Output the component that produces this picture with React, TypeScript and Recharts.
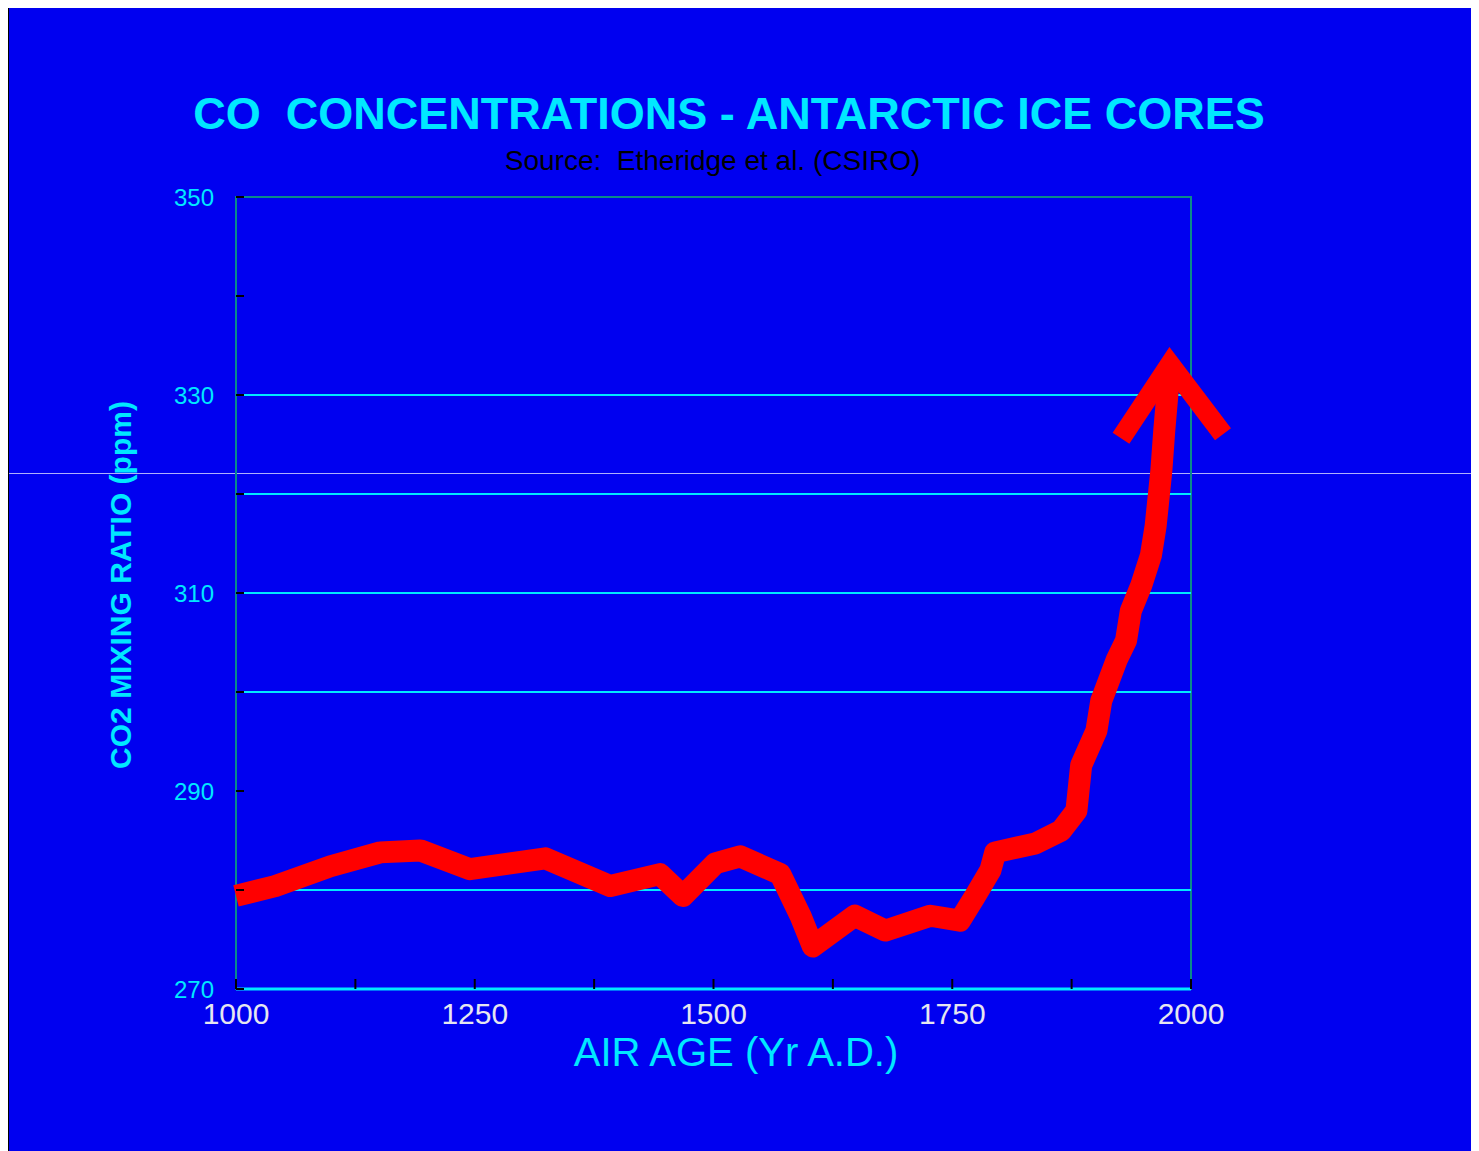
import { LineChart, Line, XAxis, YAxis, ReferenceLine, ReferenceArea } from 'recharts';

const YEARS = [1000, 1041, 1099, 1151, 1193, 1245, 1287, 1324, 1392, 1444, 1468, 1502, 1528, 1570, 1591, 1604, 1648, 1680, 1727, 1758, 1774, 1790, 1795, 1837, 1864, 1880, 1885, 1901, 1906, 1922, 1932, 1937, 1948, 1958, 1963, 1969, 1972, 1978];
const CO2_PPM = [279.4, 280.4, 282.4, 283.8, 284.0, 282.1, 282.7, 283.2, 280.4, 281.6, 279.4, 282.7, 283.4, 281.6, 277.4, 274.3, 277.4, 275.9, 277.4, 276.9, 279.4, 282.0, 283.8, 284.7, 286.0, 288.0, 292.6, 296.1, 299.1, 303.2, 305.2, 308.2, 310.8, 313.8, 316.8, 322.4, 326.4, 333.1];

const X_TICKS = [1000, 1125, 1250, 1375, 1500, 1625, 1750, 1875, 2000];
const X_LABELS = [1000, 1250, 1500, 1750, 2000];
const Y_TICKS = [270, 280, 290, 300, 310, 320, 330, 340, 350];
const Y_LABELS = [270, 290, 310, 330, 350];
const GRID_LEVELS = [280, 300, 310, 320, 330];

const BG = '#0000f0';
const CYAN = '#00e8ff';
const RED = '#ff0000';

const data = YEARS.map((year, i) => ({ year, ppm: CO2_PPM[i] }));

// arrowhead drawn on the last point only
function ArrowDot(props: any) {
  const { cx, cy, index } = props;
  if (index !== data.length - 1) return <g key={`d-${index}`} />;
  return (
    <path
      key={`d-${index}`}
      d={`M${cx - 49},${cy + 74} L${cx},${cy} L${cx + 53},${cy + 70}`}
      fill="none"
      stroke={RED}
      strokeWidth={20}
      strokeLinejoin="miter"
      strokeLinecap="butt"
    />
  );
}

export default function App() {
  return (
    <div style={{
      position: 'relative',
      width: 1471,
      height: 1147,
      marginTop: -4,
      background: BG,
      borderTop: '1px solid #000',
      borderLeft: '1px solid #000',
      boxSizing: 'border-box',
      fontFamily: 'Arial, "Liberation Sans", sans-serif',
      overflow: 'hidden',
    }}>
      <div style={{
        position: 'absolute', left: 0, width: 1440, top: 84, textAlign: 'center',
        color: CYAN, fontSize: 45, fontWeight: 700, whiteSpace: 'pre', lineHeight: '50px',
      }}>
        {'CO  CONCENTRATIONS - ANTARCTIC ICE CORES'}
      </div>
      <div style={{
        position: 'absolute', left: 0, width: 1407, top: 140, textAlign: 'center',
        color: '#000', fontSize: 28, whiteSpace: 'pre', lineHeight: '32px',
      }}>
        {'Source:  Etheridge et al. (CSIRO)'}
      </div>
      <div style={{
        position: 'absolute', left: 112 - 200, top: 580 - 20, width: 400, height: 40,
        transform: 'rotate(-90deg)', textAlign: 'center', color: CYAN,
        fontSize: 30, fontWeight: 700, lineHeight: '40px', whiteSpace: 'nowrap',
      }}>
        CO2 MIXING RATIO (ppm)
      </div>
      <div style={{
        position: 'absolute', left: 0, width: 1454, top: 1025, textAlign: 'center',
        color: CYAN, fontSize: 40, lineHeight: '44px', whiteSpace: 'nowrap',
      }}>
        AIR AGE (Yr A.D.)
      </div>
      <div style={{
        position: 'absolute', left: 0, width: 1471, top: 468, height: 1,
        background: 'rgba(220,220,255,0.8)',
      }} />
      <LineChart
        width={1471}
        height={1147}
        data={data}
        margin={{ top: 192, right: 289, bottom: 103, left: 167 }}
      >
        <ReferenceArea
          x1={1000} x2={2000} y1={270} y2={350}
          fill="none" stroke="#0a8a8a" strokeWidth={2} ifOverflow="visible"
        />
        {GRID_LEVELS.map((v) => (
          <ReferenceLine key={v} y={v} stroke={CYAN} strokeWidth={2} />
        ))}
        <XAxis
          dataKey="year"
          type="number"
          domain={[1000, 2000]}
          ticks={X_TICKS}
          interval={0}
          tickFormatter={(v: number) => (X_LABELS.includes(v) ? String(v) : '')}
          axisLine={{ stroke: CYAN, strokeWidth: 3 }}
          tickLine={{ stroke: '#000', strokeWidth: 2 }}
          tickSize={-10}
          tickMargin={24}
          height={60}
          tick={{ fill: '#e6e6f0', fontSize: 30, fontFamily: 'Arial, "Liberation Sans", sans-serif' }}
        />
        <YAxis
          type="number"
          domain={[270, 350]}
          ticks={Y_TICKS}
          interval={0}
          tickFormatter={(v: number) => (Y_LABELS.includes(v) ? String(v) : '')}
          axisLine={false}
          tickLine={{ stroke: '#000', strokeWidth: 2 }}
          tickSize={-8}
          tickMargin={30}
          width={60}
          tick={{ fill: CYAN, fontSize: 24, fontFamily: 'Arial, "Liberation Sans", sans-serif' }}
        />
        <ReferenceLine y={270} stroke="#000" strokeWidth={2} />
        <Line
          dataKey="ppm"
          stroke={RED}
          strokeWidth={22}
          strokeLinejoin="round"
          dot={ArrowDot}
          activeDot={false}
          isAnimationActive={false}
        />
      </LineChart>
    </div>
  );
}
